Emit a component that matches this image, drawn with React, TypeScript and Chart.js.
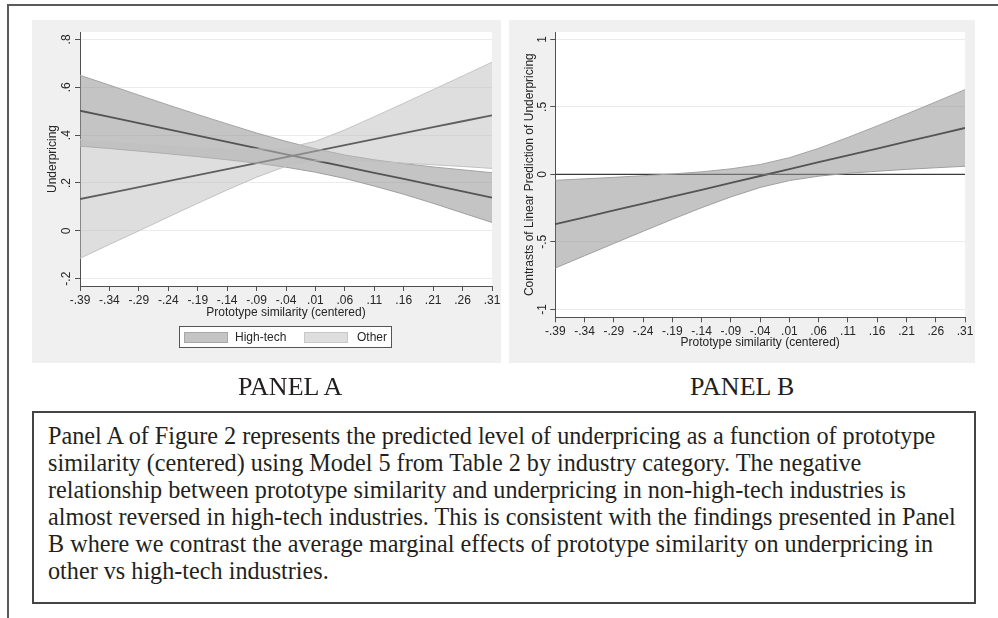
import React, { useEffect, useRef } from "react";
import { Chart, registerables } from "chart.js";

Chart.register(...registerables);

// ---------- data ----------
const xValues = [-0.39, -0.34, -0.29, -0.24, -0.19, -0.14, -0.09, -0.04, 0.01, 0.06, 0.11, 0.16, 0.21, 0.26, 0.31];
const xTickLabels = ["-.39", "-.34", "-.29", "-.24", "-.19", "-.14", "-.09", "-.04", ".01", ".06", ".11", ".16", ".21", ".26", ".31"];

const highTechFit = [0.502, 0.476, 0.45, 0.424, 0.398, 0.372, 0.346, 0.32, 0.294, 0.268, 0.242, 0.217, 0.191, 0.165, 0.139];
const highTechUpper = [0.65, 0.609, 0.567, 0.526, 0.486, 0.447, 0.409, 0.374, 0.343, 0.317, 0.297, 0.281, 0.267, 0.255, 0.243];
const highTechLower = [0.354, 0.344, 0.333, 0.322, 0.31, 0.297, 0.283, 0.266, 0.245, 0.219, 0.187, 0.153, 0.115, 0.075, 0.035];

const otherFit = [0.133, 0.158, 0.183, 0.208, 0.233, 0.258, 0.283, 0.308, 0.333, 0.358, 0.383, 0.408, 0.433, 0.458, 0.483];
const otherUpper = [0.381, 0.373, 0.366, 0.358, 0.351, 0.345, 0.342, 0.346, 0.374, 0.422, 0.477, 0.533, 0.59, 0.647, 0.705];
const otherLower = [-0.115, -0.057, 0.0, 0.058, 0.115, 0.171, 0.224, 0.27, 0.292, 0.294, 0.289, 0.283, 0.276, 0.269, 0.261];

const contrastFit = [-0.369, -0.318, -0.267, -0.216, -0.165, -0.114, -0.063, -0.012, 0.039, 0.09, 0.141, 0.191, 0.242, 0.293, 0.344];
const contrastUpper = [-0.044, -0.033, -0.022, -0.01, 0.003, 0.019, 0.041, 0.073, 0.124, 0.193, 0.274, 0.359, 0.447, 0.537, 0.628];
const contrastLower = [-0.694, -0.603, -0.512, -0.422, -0.333, -0.247, -0.167, -0.097, -0.046, -0.013, 0.008, 0.023, 0.037, 0.049, 0.06];

const refLineX = [-0.39, 0.31];
const refLineY = [0, 0];

const yTicksA = [-0.2, 0, 0.2, 0.4, 0.6, 0.8];
const yTickLabelsA = ["-.2", "0", ".2", ".4", ".6", ".8"];
const yTicksB = [-1, -0.5, 0, 0.5, 1];
const yTickLabelsB = ["-1", "-.5", "0", ".5", "1"];

const legendLabels = ["High-tech", "Other"];

const captionLines = [
  "Panel A of Figure 2 represents the predicted level of underpricing as a function of prototype",
  "similarity (centered) using Model 5 from Table 2 by industry category. The negative",
  "relationship between prototype similarity and underpricing in non-high-tech industries is",
  "almost reversed in high-tech industries. This is consistent with the findings presented in Panel",
  "B where we contrast the average marginal effects of prototype similarity on underpricing in",
  "other vs high-tech industries.",
];

// ---------- styles ----------
const FONT = '"Liberation Sans", Arial, Helvetica, sans-serif';
const SERIF = '"Liberation Serif", "Times New Roman", Times, serif';
const TEXT = "#262626";
const AXIS = "#505050";
const GRID = "#ebebeb";
const HT_FILL = "rgba(150,150,150,0.56)";
const HT_EDGE = "#a4a4a4";
const OT_FILL = "rgba(190,190,190,0.5)";
const OT_EDGE = "#c4c4c4";
const LINE = "#000000";

const pts = (xs: number[], ys: number[]) => xs.map((x, i) => ({ x, y: ys[i] }));

const plotBg = {
  id: "plotBg",
  beforeDraw(chart: any) {
    const { ctx, chartArea } = chart;
    ctx.save();
    ctx.fillStyle = "#ffffff";
    ctx.fillRect(chartArea.left, chartArea.top, chartArea.right - chartArea.left, chartArea.bottom - chartArea.top);
    ctx.restore();
  },
};

const yLabels = (ticks: number[], labels: string[], xCenter: number) => ({
  id: "yRotLabels",
  afterDraw(chart: any) {
    const { ctx } = chart;
    const s = chart.scales.y;
    ctx.save();
    ctx.font = `12px ${FONT}`;
    ctx.fillStyle = TEXT;
    ctx.textAlign = "center";
    ctx.textBaseline = "middle";
    ticks.forEach((v, i) => {
      const y = s.getPixelForValue(v);
      ctx.save();
      ctx.translate(xCenter, y);
      ctx.rotate(-Math.PI / 2);
      ctx.fillText(labels[i], 0, 0);
      ctx.restore();
    });
    ctx.restore();
  },
});

function baseOptions(p: {
  yMin: number;
  yMax: number;
  yTicks: number[];
  yTitle: string;
  yWidth: number;
  xHeight: number;
  padding: { left: number; top: number; right: number; bottom: number };
}) {
  return {
    animation: false,
    responsive: false,
    maintainAspectRatio: false,
    layout: { padding: p.padding },
    plugins: { legend: { display: false }, tooltip: { enabled: false } },
    elements: { point: { radius: 0 }, line: { tension: 0 } },
    scales: {
      x: {
        type: "linear",
        min: -0.39,
        max: 0.31,
        afterBuildTicks: (s: any) => {
          s.ticks = xValues.map((v) => ({ value: v }));
        },
        afterFit: (s: any) => {
          s.height = p.xHeight;
        },
        ticks: {
          autoSkip: false,
          maxRotation: 0,
          minRotation: 0,
          padding: 2.5,
          color: TEXT,
          font: { family: FONT, size: 12 },
          callback: (value: number) => {
            const i = xValues.findIndex((v) => Math.abs(v - value) < 1e-9);
            return i >= 0 ? xTickLabels[i] : "";
          },
        },
        grid: { drawOnChartArea: false, drawTicks: true, tickLength: 5, tickColor: AXIS, color: AXIS },
        border: { color: AXIS, width: 1 },
        title: {
          display: true,
          text: "Prototype similarity (centered)",
          color: TEXT,
          font: { family: FONT, size: 12 },
          padding: 0,
        },
      },
      y: {
        type: "linear",
        min: p.yMin,
        max: p.yMax,
        afterBuildTicks: (s: any) => {
          s.ticks = p.yTicks.map((v) => ({ value: v }));
        },
        afterFit: (s: any) => {
          s.width = p.yWidth;
        },
        ticks: { display: false },
        grid: { color: GRID, lineWidth: 1, drawTicks: true, tickLength: 5, tickColor: AXIS },
        border: { color: AXIS, width: 1 },
        title: {
          display: true,
          text: p.yTitle,
          color: TEXT,
          font: { family: FONT, size: 12 },
          padding: 0,
        },
      },
    },
  };
}

function configA(): any {
  return {
    type: "line",
    data: {
      datasets: [
        { label: "Other upper", data: pts(xValues, otherUpper), borderColor: OT_EDGE, borderWidth: 1, backgroundColor: OT_FILL, fill: "+1" },
        { label: "Other lower", data: pts(xValues, otherLower), borderColor: OT_EDGE, borderWidth: 1, fill: false },
        { label: "High-tech upper", data: pts(xValues, highTechUpper), borderColor: HT_EDGE, borderWidth: 1, backgroundColor: HT_FILL, fill: "+1" },
        { label: "High-tech lower", data: pts(xValues, highTechLower), borderColor: HT_EDGE, borderWidth: 1, fill: false },
        { label: "High-tech", data: pts(xValues, highTechFit), borderColor: LINE, borderWidth: 1.8, fill: false },
        { label: "Other", data: pts(xValues, otherFit), borderColor: LINE, borderWidth: 1.8, fill: false },
      ],
    },
    options: baseOptions({
      yMin: -0.2305,
      yMax: 0.831,
      yTicks: yTicksA,
      yTitle: "Underpricing",
      yWidth: 34.2,
      xHeight: 33.9,
      padding: { left: 13.8, top: 12, right: 29, bottom: 43.1 },
    }),
    plugins: [plotBg, yLabels(yTicksA, yTickLabelsA, 34.5)],
  };
}

function configB(): any {
  return {
    type: "line",
    data: {
      datasets: [
        { label: "Contrast upper", data: pts(xValues, contrastUpper), borderColor: HT_EDGE, borderWidth: 1, backgroundColor: HT_FILL, fill: "+1" },
        { label: "Contrast lower", data: pts(xValues, contrastLower), borderColor: HT_EDGE, borderWidth: 1, fill: false },
        { label: "Zero", data: pts(refLineX, refLineY), borderColor: "#3a3a3a", borderWidth: 1.4, fill: false },
        { label: "Contrast", data: pts(xValues, contrastFit), borderColor: LINE, borderWidth: 1.8, fill: false },
      ],
    },
    options: baseOptions({
      yMin: -1.059,
      yMax: 1.055,
      yTicks: yTicksB,
      yTitle: "Contrasts of Linear Prediction of Underpricing",
      yWidth: 32.5,
      xHeight: 32.6,
      padding: { left: 13.8, top: 12, right: 30, bottom: 13.1 },
    }),
    plugins: [plotBg, yLabels(yTicksB, yTickLabelsB, 33.5)],
  };
}

function ChartCanvas(props: { make: () => any; left: number; top: number; width: number; height: number }) {
  const ref = useRef<HTMLCanvasElement>(null);
  useEffect(() => {
    const chart = new Chart(ref.current as HTMLCanvasElement, props.make());
    return () => chart.destroy();
  }, []);
  return (
    <canvas
      ref={ref}
      width={props.width}
      height={props.height}
      style={{ position: "absolute", left: props.left, top: props.top, width: props.width, height: props.height }}
    />
  );
}

export default function App() {
  const swatch = (left: number, bg: string, border: string) => (
    <div
      style={{
        position: "absolute",
        left,
        top: 5,
        width: 44,
        height: 11,
        background: bg,
        border: `1px solid ${border}`,
        boxSizing: "border-box",
      }}
    />
  );
  const legText = (left: number, text: string) => (
    <div
      style={{
        position: "absolute",
        left,
        top: 0,
        lineHeight: "20px",
        fontFamily: FONT,
        fontSize: 12,
        color: TEXT,
        whiteSpace: "nowrap",
      }}
    >
      {text}
    </div>
  );
  const titleStyle: React.CSSProperties = {
    position: "absolute",
    top: 374,
    fontFamily: SERIF,
    fontSize: 26,
    lineHeight: "26px",
    color: "#231f20",
    whiteSpace: "nowrap",
  };
  return (
    <div
      style={{
        position: "absolute",
        left: 0,
        top: 0,
        width: 998,
        height: 618,
        overflow: "hidden",
        background: "#ffffff",
      }}
    >
      {/* outer figure frame */}
      <div
        style={{
          position: "absolute",
          left: 7,
          top: 4,
          width: 1100,
          height: 800,
          borderLeft: "2px solid #5a5a5a",
          borderTop: "2px solid #5a5a5a",
        }}
      />
      {/* panel backgrounds */}
      <div style={{ position: "absolute", left: 32, top: 20, width: 469, height: 343, background: "#f0f0f0" }} />
      <div style={{ position: "absolute", left: 509, top: 20, width: 466, height: 343, background: "#f0f0f0" }} />

      <ChartCanvas make={configA} left={32} top={20} width={489} height={343} />
      <ChartCanvas make={configB} left={509} top={20} width={486} height={343} />

      {/* legend of panel A */}
      <div
        style={{
          position: "absolute",
          left: 179,
          top: 326,
          width: 213,
          height: 22,
          border: "1px solid #555",
          background: "#fff",
          boxSizing: "border-box",
        }}
      >
        {swatch(4, "#c4c4c4", "#a8a8a8")}
        {legText(55, legendLabels[0])}
        {swatch(124, "#dedede", "#c8c8c8")}
        {legText(177, legendLabels[1])}
      </div>

      {/* panel titles */}
      <div style={{ ...titleStyle, left: 238 }}>PANEL A</div>
      <div style={{ ...titleStyle, left: 690 }}>PANEL B</div>

      {/* caption box */}
      <div
        style={{
          position: "absolute",
          left: 32,
          top: 411,
          width: 944,
          height: 193,
          border: "2px solid #444",
          boxSizing: "border-box",
          background: "#fff",
        }}
      >
        <div style={{ position: "absolute", left: 14, top: 9 }}>
          {captionLines.map((l, i) => (
            <div
              key={i}
              style={{
                fontFamily: SERIF,
                fontSize: 24.2,
                lineHeight: "27px",
                color: "#231f20",
                whiteSpace: "nowrap",
              }}
            >
              {l}
            </div>
          ))}
        </div>
      </div>
    </div>
  );
}
